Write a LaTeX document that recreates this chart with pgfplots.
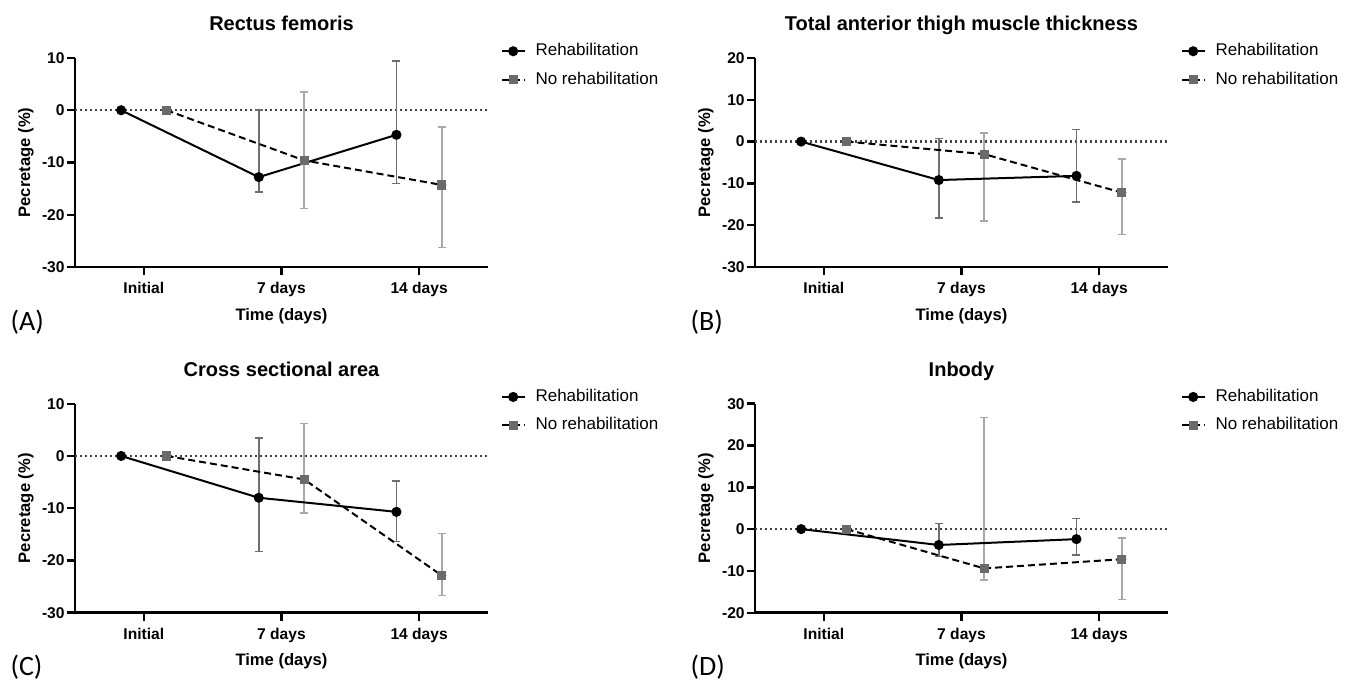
\documentclass[border=0pt]{standalone}
\usepackage{pgfplots}
\pgfplotsset{compat=1.18}
\usepackage{pgfplotstable}
\usepackage{fontspec}
\setmainfont{Liberation Sans}
\newfontfamily\panelfont{Carlito}

\definecolor{errdark}{HTML}{6E6E6E}
\definecolor{errlight}{HTML}{A8A8A8}
\definecolor{sqgray}{HTML}{6A6A6A}
\definecolor{zeroline}{HTML}{444444}

% columns: x, rehab mean / +err / -err, no rehab mean / +err / -err
\pgfplotstableread{
x r rp rm n np nm
0 0 0 0 0 0 0
1 -12.8 12.8 2.8 -9.6 13.1 9.2
2 -4.7 14.1 9.3 -14.3 11.1 12.0
}\dataA
\pgfplotstableread{
x r rp rm n np nm
0 0 0 0 0 0 0
1 -9.2 10.0 9.1 -3.0 5.0 16.0
2 -8.2 11.1 6.2 -12.2 8.0 10.0
}\dataB
\pgfplotstableread{
x r rp rm n np nm
0 0 0 0 0 0 0
1 -8.0 11.4 10.3 -4.5 10.7 6.4
2 -10.7 5.9 5.7 -22.9 8.1 3.8
}\dataC
\pgfplotstableread{
x r rp rm n np nm
0 0 0 0 0 0 0
1 -3.8 5.15 2.8 -9.4 36.05 2.8
2 -2.4 4.9 3.8 -7.2 5.1 9.6
}\dataD

\tikzset{paneltag/.style={anchor=west, inner sep=0pt, font=\panelfont\fontsize{14}{16}\selectfont}}

\pgfplotsset{
  every axis title shift=0pt,
  panel/.style={
    scale only axis, width=206.5pt, height=104.5pt,
    anchor=south west,
    xmin=-0.5, xmax=2.5,
    axis lines*=left, axis line style={-, line width=1.4pt},
    xtick={0,1,2}, xticklabels={Initial,7 days,14 days},
    ytick distance=10,
    tick align=outside, major tick length=4pt,
    tick style={line width=1.2pt, black},
    minor tick num=0,
    ticklabel style={font=\bfseries\fontsize{7.8}{9}\selectfont},
    yticklabel style={inner sep=1pt},
    /pgf/number format/assume math mode=true,
    xlabel={Time (days)}, ylabel={Pecretage (\%)},
    label style={font=\bfseries\fontsize{8.3}{10}\selectfont},
    xlabel style={at={(0.5,-0.254)}, anchor=base},
    ylabel style={at={(-0.119,0.5)}, anchor=center},
    title style={at={(0.5,1.13)}, anchor=base, yshift=0pt, font=\bfseries\fontsize{10}{12}\selectfont},
    legend style={at={(1.03,1.09)}, anchor=north west, draw=none, fill=none,
      inner sep=0pt, row sep=2.5pt, font=\fontsize{8.5}{10}\selectfont,
      /tikz/every odd column/.append style={column sep=3pt}},
    legend cell align=left,
    legend image code/.code={\draw[mark repeat=2,mark phase=2] plot coordinates {(0cm,0cm) (0.2cm,0cm) (0.4cm,0cm)};},
    clip=false,
  },
  zeroln/.style={forget plot, zeroline, line width=1.1pt, dash pattern=on 1.1pt off 1.4pt},
  errR/.style={forget plot, only marks, mark=none, error bars/.cd, y dir=both, y explicit,
    error bar style={errdark, line width=0.75pt, solid},
    error mark options={errdark, rotate=90, mark size=2pt, line width=0.75pt}},
  errN/.style={forget plot, only marks, mark=none, error bars/.cd, y dir=both, y explicit,
    error bar style={errlight, line width=0.75pt, solid},
    error mark options={errlight, rotate=90, mark size=2pt, line width=0.75pt}},
  rehab/.style={black, line width=1pt, mark=*, mark size=2pt, mark options={solid, fill=black}},
  norehab/.style={black, line width=1pt, dash pattern=on 3.5pt off 2pt, mark=square*, mark size=1.8pt,
    mark options={solid, fill=sqgray, draw=sqgray}},
}

\newcommand{\panelplots}[1]{%
  \addplot[zeroln] coordinates {(-0.5,0) (2.5,0)};
  \addplot[errR] table[x expr=\thisrow{x}-0.165, y=r, y error plus=rp, y error minus=rm, skip coords between index={0}{1}] {#1};
  \addplot[errN] table[x expr=\thisrow{x}+0.165, y=n, y error plus=np, y error minus=nm, skip coords between index={0}{1}] {#1};
  \addplot[rehab] table[x expr=\thisrow{x}-0.165, y=r] {#1};
  \addplot[norehab] table[x expr=\thisrow{x}+0.165, y=n] {#1};
  \legend{Rehabilitation, No rehabilitation}
}

\begin{document}
\begin{tikzpicture}
\path[use as bounding box] (0,0) rectangle (677pt,340pt);

\begin{axis}[panel, at={(37.5pt,206.5pt)}, ymin=-30, ymax=10, title={Rectus femoris}]
\panelplots{\dataA}
\node[paneltag] at (rel axis cs:-0.157,-0.263) {(A)};
\end{axis}

\begin{axis}[panel, at={(377.5pt,206.5pt)}, ymin=-30, ymax=20, title={Total anterior thigh muscle thickness}]
\panelplots{\dataB}
\node[paneltag] at (rel axis cs:-0.157,-0.263) {(B)};
\end{axis}

\begin{axis}[panel, at={(37.5pt,33.65pt)}, ymin=-30, ymax=10, title={Cross sectional area}]
\panelplots{\dataC}
\node[paneltag] at (rel axis cs:-0.157,-0.263) {(C)};
\end{axis}

\begin{axis}[panel, at={(377.5pt,33.65pt)}, ymin=-20, ymax=30, title={Inbody}]
\panelplots{\dataD}
\node[paneltag] at (rel axis cs:-0.157,-0.263) {(D)};
\end{axis}
\end{tikzpicture}
\end{document}
